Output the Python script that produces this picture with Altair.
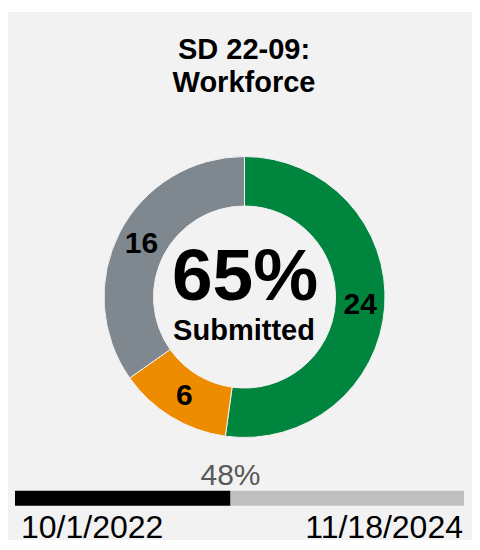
import altair as alt
import pandas as pd

# ---- data ----
categories = ["Submitted on time", "Submitted late", "Not submitted"]
counts = [24, 6, 16]
slice_colors = ["#00853F", "#EE8C00", "#7F888E"]

title_lines = ["SD 22-09:", "Workforce"]
center_value = ["65%"]
center_label = ["Submitted"]

progress_parts = ["elapsed", "remaining"]
progress_start = [0, 48]
progress_end = [48, 100]
progress_colors = ["#000000", "#BFBFBF"]
progress_label = ["48%"]
progress_value = [48]
date_labels = ["10/1/2022", "11/18/2024"]

FONT = "Liberation Sans"
W, H = 464, 528
CX, CY = 236.5, 285

donut_df = pd.DataFrame({"cat": categories, "count": counts, "ord": list(range(len(counts)))})
base = alt.Chart(donut_df).encode(
    theta=alt.Theta("count:Q", stack=True),
    order=alt.Order("ord:Q"),
    x=alt.value(CX),
    y=alt.value(CY),
)
arcs = base.mark_arc(innerRadius=91, outerRadius=140.5, stroke="#f2f2f2", strokeWidth=1).encode(
    color=alt.Color("cat:N", scale=alt.Scale(domain=categories, range=slice_colors), legend=None)
)
slice_text = base.mark_text(radius=116, font=FONT, fontSize=30, fontWeight="bold", color="black").encode(
    text="count:Q"
)

title_df = pd.DataFrame({"t": [title_lines]})
title = alt.Chart(title_df).mark_text(
    font=FONT, fontSize=29, fontWeight="bold", color="black", baseline="alphabetic", lineHeight=33.5
).encode(text="t", x=alt.value(236), y=alt.value(46.5))

cv = alt.Chart(pd.DataFrame({"t": center_value})).mark_text(
    font=FONT, fontSize=73, fontWeight="bold", color="black", baseline="alphabetic"
).encode(text="t:N", x=alt.value(237), y=alt.value(288))
cl = alt.Chart(pd.DataFrame({"t": center_label})).mark_text(
    font=FONT, fontSize=29, fontWeight="bold", color="black", baseline="alphabetic"
).encode(text="t:N", x=alt.value(236), y=alt.value(328))

xscale = alt.Scale(domain=[0, 100], range=[7, 456])
prog_df = pd.DataFrame({"part": progress_parts, "s": progress_start, "e": progress_end})
bar = alt.Chart(prog_df).mark_rect().encode(
    x=alt.X("s:Q", scale=xscale, axis=None),
    x2="e:Q",
    y=alt.value(478.7),
    y2=alt.value(493.7),
    color=alt.Color("part:N", scale=alt.Scale(domain=progress_parts, range=progress_colors), legend=None),
)
pl = alt.Chart(pd.DataFrame({"t": progress_label, "v": progress_value})).mark_text(
    font=FONT, fontSize=30, color="#595959", baseline="alphabetic"
).encode(x=alt.X("v:Q", scale=xscale, axis=None), y=alt.value(473), text="t:N")

d1 = alt.Chart(pd.DataFrame({"t": [date_labels[0]]})).mark_text(
    font=FONT, fontSize=32, color="black", baseline="alphabetic", align="left"
).encode(text="t:N", x=alt.value(13), y=alt.value(526))
d2 = alt.Chart(pd.DataFrame({"t": [date_labels[1]]})).mark_text(
    font=FONT, fontSize=32, color="black", baseline="alphabetic", align="right"
).encode(text="t:N", x=alt.value(455), y=alt.value(526))

chart = alt.layer(arcs, slice_text, title, cv, cl, bar, pl, d1, d2).resolve_scale(
    color="independent"
).properties(
    width=W, height=H,
    padding={"left": 0, "top": 4, "right": 0, "bottom": 0},
    autosize=alt.AutoSizeParams(type="none"),
    background="white",
).configure_view(fill="#f2f2f2", stroke=None)

chart.save("out.html", embed_options={"renderer": "svg", "actions": False})
